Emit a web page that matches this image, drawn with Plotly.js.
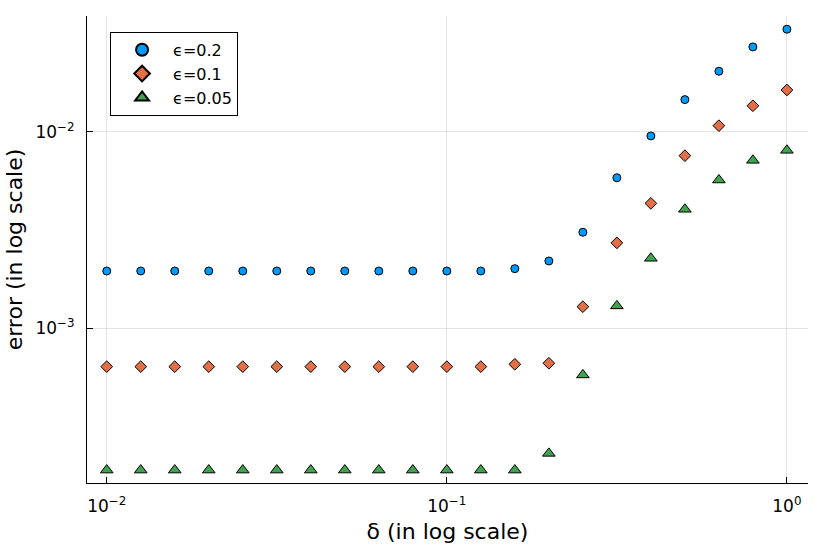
<!DOCTYPE html>
<html>
<head>
<meta charset="utf-8">
<script src="https://cdn.plot.ly/plotly-3.0.1.min.js"></script>
<style>html,body{margin:0;padding:0;background:#fff;}#chart{width:824px;height:549px;}</style>
</head>
<body>
<div id="chart"></div>
<script>
const delta = [0.01, 0.0125893, 0.0158489, 0.0199526, 0.0251189, 0.0316228, 0.0398107, 0.0501187, 0.0630957, 0.0794328, 0.1, 0.125893, 0.158489, 0.199526, 0.251189, 0.316228, 0.398107, 0.501187, 0.630957, 0.794328, 1.0];
const err02 = [0.001956, 0.001956, 0.001956, 0.001956, 0.001956, 0.001956, 0.001956, 0.001956, 0.001956, 0.001956, 0.001956, 0.001956, 0.00201, 0.00220, 0.00308, 0.00583, 0.00951, 0.01456, 0.0203, 0.0270, 0.0332];
const err01 = [0.000638, 0.000638, 0.000638, 0.000638, 0.000638, 0.000638, 0.000638, 0.000638, 0.000638, 0.000638, 0.000638, 0.000638, 0.000656, 0.000664, 0.001288, 0.00272, 0.00432, 0.00755, 0.01073, 0.01355, 0.01630];
const err005 = [0.000190, 0.000190, 0.000190, 0.000190, 0.000190, 0.000190, 0.000190, 0.000190, 0.000190, 0.000190, 0.000190, 0.000190, 0.000190, 0.000231, 0.000579, 0.00130, 0.00227, 0.00403, 0.00568, 0.00715, 0.00804];
const seriesNames = ["ϵ=0.2", "ϵ=0.1", "ϵ=0.05"];
const xTickVals = [0.01, 0.1, 1];
const xTickText = ["10<sup>−2</sup>", "10<sup>−1</sup>", "10<sup>0</sup>"];
const yTickVals = [0.001, 0.01];
const yTickText = ["10<sup>−3</sup>", "10<sup>−2</sup>"];

const font = "DejaVu Sans, sans-serif";
const outline = {color: "#000", width: 1};
const traces = [
  {x: delta, y: err02, name: seriesNames[0], type: "scatter", mode: "markers",
   marker: {symbol: "circle", size: 8, color: "#009AFA", line: outline}},
  {x: delta, y: err01, name: seriesNames[1], type: "scatter", mode: "markers",
   marker: {symbol: "diamond", size: 9, color: "#E36F47", line: outline}},
  {x: delta, y: err005, name: seriesNames[2], type: "scatter", mode: "markers",
   marker: {symbol: "triangle-up", size: 11, color: "#3EA44E", line: outline}}
];
const axisCommon = {
  type: "log", showline: true, linecolor: "#000", linewidth: 1, mirror: false,
  ticks: "inside", ticklen: 6, tickcolor: "#000", tickwidth: 1,
  showgrid: true, gridcolor: "rgba(0,0,0,0.1)", gridwidth: 1, zeroline: false,
  tickfont: {family: font, size: 17, color: "#000"}
};
const layout = {
  width: 824, height: 549,
  margin: {l: 87, r: 16, t: 16, b: 66},
  paper_bgcolor: "#fff", plot_bgcolor: "#fff",
  font: {family: font, color: "#000"},
  showlegend: true,
  legend: {x: 0.032, y: 0.966, xanchor: "left", yanchor: "top",
    bordercolor: "#000", borderwidth: 1, bgcolor: "#fff",
    font: {family: font, size: 16, color: "#000"}, itemwidth: 52, itemsizing: "constant"},
  xaxis: Object.assign({}, axisCommon, {
    range: [-2.058, 0.062], tickvals: xTickVals, ticktext: xTickText,
    ticklabelstandoff: 8,
    title: {text: "δ (in log scale)", font: {family: font, size: 22, color: "#000"}, standoff: 8}
  }),
  yaxis: Object.assign({}, axisCommon, {
    range: [-3.787, -1.4115], tickvals: yTickVals, ticktext: yTickText,
    ticklabelstandoff: 8,
    title: {text: "error (in log scale)", font: {family: font, size: 22, color: "#000"}, standoff: 6}
  })
};
Plotly.newPlot("chart", traces, layout, {displayModeBar: false, staticPlot: true});
</script>
</body>
</html>
